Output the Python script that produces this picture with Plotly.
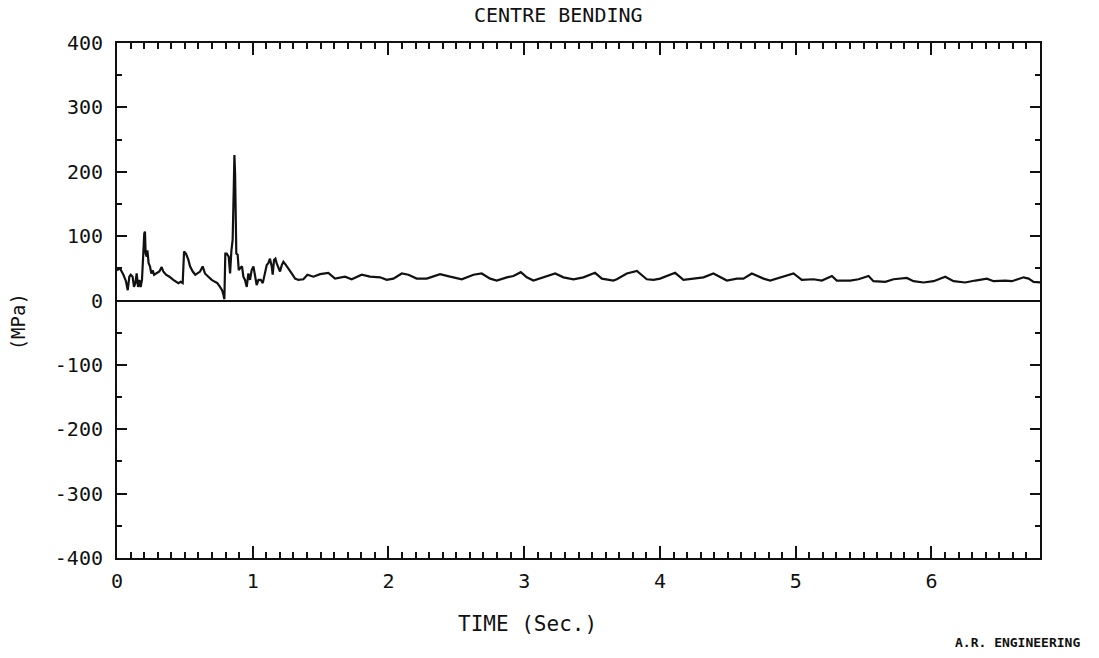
import plotly.graph_objects as go

# Time (s) and centre bending stress (MPa)
time_s = [
    0.000, 0.022, 0.047, 0.066, 0.079, 0.091, 0.101, 0.115, 0.125, 0.135,
    0.145, 0.155, 0.165, 0.174, 0.184, 0.189, 0.194, 0.201, 0.206, 0.211,
    0.219, 0.224, 0.233, 0.243, 0.253, 0.263, 0.273, 0.292, 0.312, 0.329,
    0.341, 0.361, 0.386, 0.415, 0.440, 0.452, 0.469, 0.484, 0.494, 0.508,
    0.526, 0.538, 0.558, 0.577, 0.592, 0.612, 0.631, 0.648, 0.673, 0.698,
    0.722, 0.739, 0.759, 0.774, 0.784, 0.791, 0.798, 0.808, 0.823, 0.833,
    0.843, 0.852, 0.860, 0.865, 0.870, 0.875, 0.879, 0.889, 0.897, 0.906,
    0.921, 0.931, 0.943, 0.956, 0.968, 0.980, 0.992, 1.005, 1.017, 1.029,
    1.042, 1.059, 1.074, 1.091, 1.103, 1.115, 1.127, 1.140, 1.147, 1.157,
    1.167, 1.176, 1.189, 1.201, 1.214, 1.226, 1.245, 1.263, 1.287, 1.312,
    1.336, 1.373, 1.403, 1.447, 1.496, 1.557, 1.606, 1.680, 1.729, 1.803,
    1.864, 1.938, 1.987, 2.036, 2.098, 2.147, 2.208, 2.282, 2.380, 2.454,
    2.540, 2.626, 2.687, 2.749, 2.798, 2.872, 2.921, 2.975, 3.019, 3.068,
    3.142, 3.228, 3.289, 3.363, 3.436, 3.522, 3.572, 3.621, 3.657, 3.682,
    3.756, 3.830, 3.903, 3.952, 4.001, 4.112, 4.173, 4.247, 4.321, 4.394,
    4.493, 4.567, 4.615, 4.677, 4.763, 4.812, 4.898, 4.984, 5.045, 5.131,
    5.193, 5.267, 5.303, 5.402, 5.463, 5.537, 5.573, 5.660, 5.721, 5.819,
    5.868, 5.942, 6.016, 6.102, 6.163, 6.249, 6.323, 6.409, 6.458, 6.544,
    6.593, 6.679, 6.716, 6.753, 6.800,
]
stress_mpa = [
    47, 50, 40, 30, 16, 37, 40, 37, 21, 27,
    42, 21, 32, 21, 32, 63, 89, 104, 107, 73,
    68, 78, 58, 53, 42, 47, 40, 42, 45, 52,
    45, 40, 37, 32, 29, 27, 29, 27, 76, 73,
    63, 53, 45, 40, 42, 45, 53, 42, 37, 32,
    29, 27, 21, 16, 9, 2, 73, 73, 68, 42,
    78, 94, 172, 226, 197, 146, 73, 71, 47, 50,
    53, 37, 32, 21, 42, 32, 47, 53, 37, 24,
    32, 32, 27, 47, 55, 58, 65, 53, 40, 63,
    65, 58, 50, 45, 55, 60, 55, 50, 42, 34,
    32, 33, 40, 37, 41, 43, 34, 37, 33, 40,
    37, 36, 32, 34, 42, 40, 34, 34, 41, 37,
    33, 40, 42, 34, 31, 36, 38, 44, 36, 31,
    36, 42, 36, 33, 36, 43, 34, 32, 31, 33,
    42, 46, 33, 32, 34, 43, 32, 34, 36, 42,
    31, 34, 34, 42, 34, 31, 36, 42, 32, 33,
    31, 38, 31, 31, 33, 38, 30, 29, 33, 35,
    30, 28, 30, 37, 30, 28, 31, 34, 30, 31,
    30, 36, 34, 29, 28,
]

x_tick_vals = [0, 1, 2, 3, 4, 5, 6]
x_tick_text = ["0", "1", "2", "3", "4", "5", "6"]
y_tick_vals = [-400, -300, -200, -100, 0, 100, 200, 300, 400]
y_tick_text = ["-400", "-300", "-200", "-100", "0", "100", "200", "300", "400"]

FONT = "DejaVu Sans Mono"

fig = go.Figure()
fig.add_trace(go.Scatter(
    x=time_s, y=stress_mpa, mode="lines",
    line=dict(color="#111111", width=2.2),
    showlegend=False, hoverinfo="skip",
))

fig.update_layout(
    width=1099, height=658,
    margin=dict(l=117, r=59, t=43, b=100),
    paper_bgcolor="white", plot_bgcolor="white",
    font=dict(family=FONT, color="#111111"),
    xaxis=dict(
        range=[0, 6.8], showgrid=False, zeroline=False,
        showline=True, linecolor="#111111", linewidth=2, mirror="allticks",
        ticks="inside", ticklen=12, tickwidth=1.5, tickcolor="#111111",
        tickvals=x_tick_vals, ticktext=x_tick_text,
        tickfont=dict(family=FONT, size=20, color="#111111"),
        ticklabelstandoff=4,
        minor=dict(ticks="inside", ticklen=6, tickwidth=1.5, tickcolor="#111111", dtick=0.1, tick0=0, showgrid=False),
    ),
    yaxis=dict(
        range=[-400, 400], showgrid=False,
        zeroline=True, zerolinecolor="#111111", zerolinewidth=2,
        showline=True, linecolor="#111111", linewidth=2, mirror="allticks",
        ticks="inside", ticklen=10, tickwidth=1.5, tickcolor="#111111",
        tickvals=y_tick_vals, ticktext=y_tick_text,
        tickfont=dict(family=FONT, size=20, color="#111111"),
        ticklabelstandoff=8,
        minor=dict(ticks="inside", ticklen=5, tickwidth=1.5, tickcolor="#111111", dtick=50, tick0=0, showgrid=False),
    ),
    annotations=[
        dict(text="CENTRE BENDING", xref="paper", yref="paper", x=0.478, y=1.054,
             xanchor="center", yanchor="middle", showarrow=False,
             font=dict(family=FONT, size=20, color="#111111")),
        dict(text="TIME (Sec.)", xref="paper", yref="paper", x=0.445, y=-0.128,
             xanchor="center", yanchor="middle", showarrow=False,
             font=dict(family=FONT, size=21, color="#111111")),
        dict(text="(MPa)", xref="paper", yref="paper", x=-0.107, y=0.458,
             xanchor="center", yanchor="middle", showarrow=False, textangle=-90,
             font=dict(family=FONT, size=19, color="#111111")),
        dict(text="<b>A.R. ENGINEERING</b>", xref="paper", yref="paper", x=0.976, y=-0.165,
             xanchor="center", yanchor="middle", showarrow=False,
             font=dict(family=FONT, size=13, color="#111111")),
    ],
)

fig.write_html("out.html")
